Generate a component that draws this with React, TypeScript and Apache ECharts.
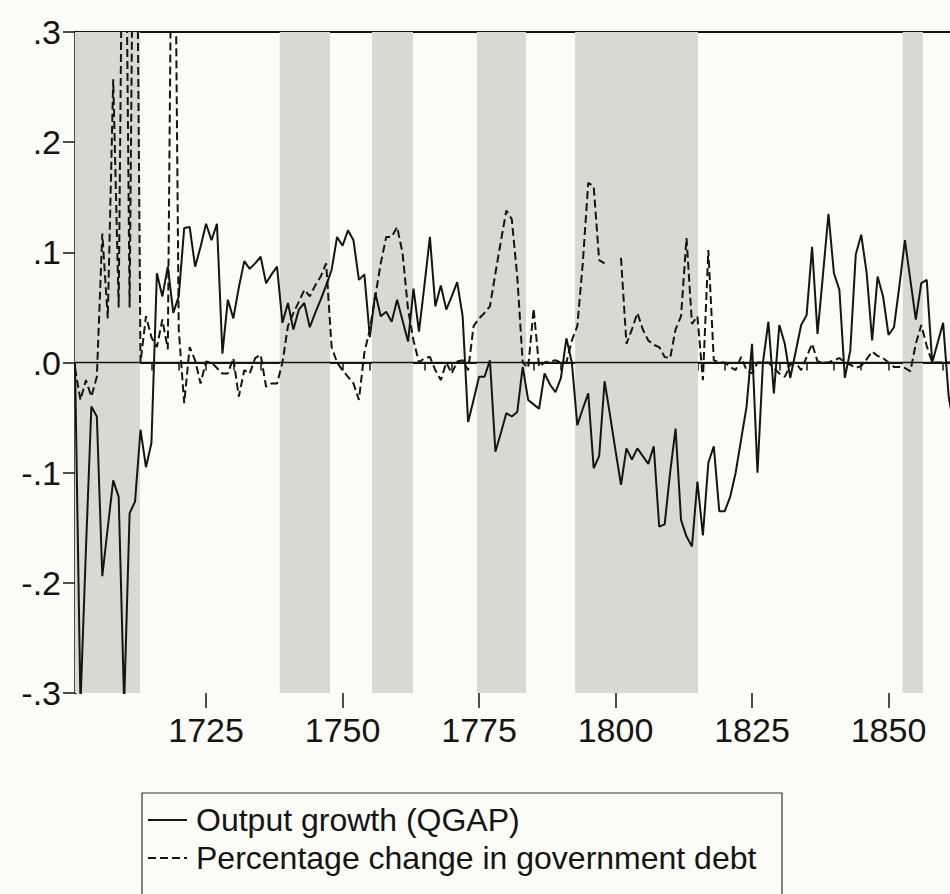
import React, { useEffect, useRef } from "react";
import * as echarts from "echarts";

// ---- Data (annual observations, first year 1701) ----
const FIRST_YEAR = 1701;

const outputGrowth: number[] = [
  0.0, -0.31, -0.17, -0.04, -0.049, -0.194, -0.15, -0.107, -0.122, -0.31,
  -0.137, -0.126, -0.061, -0.095, -0.073, 0.081, 0.06, 0.087, 0.045, 0.06,
  0.122, 0.123, 0.087, 0.105, 0.126, 0.111, 0.126, 0.008, 0.057, 0.04,
  0.068, 0.092, 0.085, 0.09, 0.096, 0.072, 0.08, 0.087, 0.036, 0.054,
  0.03, 0.048, 0.054, 0.032, 0.045, 0.057, 0.07, 0.084, 0.114, 0.106,
  0.12, 0.111, 0.075, 0.08, 0.023, 0.063, 0.042, 0.046, 0.037, 0.057,
  0.038, 0.019, 0.067, 0.028, 0.07, 0.114, 0.051, 0.07, 0.048, 0.06,
  0.073, 0.042, -0.054, -0.034, -0.013, -0.013, 0.002, -0.081, -0.064, -0.046,
  -0.049, -0.045, -0.004, -0.034, -0.038, -0.042, -0.01, -0.02, -0.027, -0.014,
  0.022, 0.0, -0.057, -0.042, -0.028, -0.096, -0.085, -0.017, -0.048, -0.08,
  -0.111, -0.078, -0.088, -0.078, -0.085, -0.092, -0.076, -0.149, -0.147, -0.1,
  -0.06, -0.143, -0.158, -0.167, -0.108, -0.157, -0.091, -0.076, -0.135, -0.135,
  -0.122, -0.1, -0.07, -0.04, 0.017, -0.1, 0.0, 0.037, -0.028, 0.034,
  0.017, -0.014, 0.01, 0.034, 0.043, 0.105, 0.026, 0.08, 0.135, 0.081,
  0.066, -0.014, 0.011, 0.098, 0.116, 0.081, 0.02, 0.078, 0.06, 0.025,
  0.032, 0.07, 0.111, 0.075, 0.039, 0.072, 0.075, 0.0, 0.018, 0.036,
  -0.03, -0.06,
];

const debtChange: (number | null)[] = [
  -0.005, -0.034, -0.016, -0.031, -0.013, 0.117, 0.04, 0.257, 0.05, 0.6,
  0.05, 0.63, 0.0, 0.042, 0.023, 0.014, 0.039, 0.012, 0.6, 0.03,
  -0.037, 0.014, 0.002, -0.019, 0.001, 0.0, -0.005, -0.01, -0.01, 0.004,
  -0.031, -0.007, -0.01, 0.004, 0.007, -0.022, -0.019, -0.019, 0.0, 0.033,
  0.045, 0.055, 0.066, 0.06, 0.07, 0.078, 0.09, 0.014, 0.0, -0.007,
  -0.013, -0.019, -0.034, 0.009, 0.03, 0.06, 0.09, 0.114, 0.114, 0.123,
  0.099, 0.048, 0.02, 0.0, 0.004, 0.005, -0.007, -0.016, 0.0, -0.01,
  0.001, 0.002, -0.007, 0.033, 0.04, 0.045, 0.051, 0.081, 0.11, 0.138,
  0.13, 0.078, 0.0, -0.005, 0.049, -0.004, 0.0, 0.001, 0.002, 0.0,
  0.0, 0.02, 0.033, 0.09, 0.163, 0.16, 0.093, 0.09, null, null,
  0.095, 0.017, 0.03, 0.045, 0.03, 0.02, 0.016, 0.014, 0.005, 0.004,
  0.03, 0.042, 0.113, 0.035, 0.042, -0.016, 0.102, 0.002, 0.0, 0.0,
  -0.004, -0.007, 0.005, -0.007, -0.01, 0.0, 0.0, 0.0, -0.005, -0.01,
  -0.013, -0.002, 0.0, -0.007, 0.005, 0.017, 0.001, 0.0, 0.0, 0.002,
  0.004, 0.0, -0.002, -0.005, -0.003, 0.003, 0.01, 0.006, 0.004, 0.0,
  -0.004, -0.004, -0.005, -0.008, 0.017, 0.034, 0.015, 0.0, 0.0, 0.0,
  0.0, 0.0,
];

// Shaded (war) periods, in years
const warBands: [number, number][] = [
  [1701, 1712.9],
  [1738.5, 1747.7],
  [1755.4, 1762.9],
  [1774.6, 1783.6],
  [1792.6, 1815.1],
  [1852.6, 1856.3],
];

const xLabelYears = [1725, 1750, 1775, 1800, 1825, 1850];
const xMinorTickYears = [
  1705, 1710, 1715, 1720, 1725, 1730, 1735, 1740, 1745, 1750, 1755, 1760,
  1765, 1770, 1775, 1780, 1785, 1790, 1795, 1800, 1805, 1810, 1815, 1820,
  1825, 1830, 1835, 1840, 1845, 1850, 1855, 1860,
];

const legendLabels = [
  "Output growth (QGAP)",
  "Percentage change in government debt",
];

const X_MIN = 1701;
const X_MAX = 1861.26;

const FONT = "'Liberation Sans', Arial, Helvetica, sans-serif";
const INK = "#141414";

export default function App() {
  const ref = useRef<HTMLDivElement>(null);

  useEffect(() => {
    if (!ref.current) return;
    const chart = echarts.init(ref.current, null, { renderer: "svg" });

    const solidData = outputGrowth.map((v, i) => [FIRST_YEAR + i, v]);
    const dashedData = debtChange.map((v, i) => [FIRST_YEAR + i, v]);

    const yFmt = (v: number) => {
      const r = Math.round(v * 10);
      if (r === 0) return ".0";
      return (r < 0 ? "-" : "") + "." + Math.abs(r);
    };

    const option: any = {
      animation: false,
      backgroundColor: "#fcfcf7",
      grid: { left: 75, right: 0, top: 32, bottom: 201, containLabel: false },
      xAxis: [
        {
          type: "value",
          min: X_MIN,
          max: X_MAX,
          position: "bottom",
          axisLine: { show: true, lineStyle: { color: INK, width: 2 } },
          axisTick: {
            show: true,
            customValues: xMinorTickYears,
            length: 8,
            lineStyle: { color: INK, width: 1.5 },
          },
          axisLabel: {
            show: true,
            customValues: xLabelYears,
            fontSize: 34,
            fontFamily: FONT,
            color: INK,
            margin: 20,
            formatter: (v: number) => String(Math.round(v)),
          },
          splitLine: { show: false },
        },
        {
          type: "value",
          min: X_MIN,
          max: X_MAX,
          position: "bottom",
          axisLine: { show: false },
          axisTick: {
            show: true,
            customValues: xLabelYears,
            length: 15,
            lineStyle: { color: INK, width: 1.5 },
          },
          axisLabel: { show: false },
          splitLine: { show: false },
        },
        {
          type: "value",
          min: X_MIN,
          max: X_MAX,
          position: "top",
          axisLine: { show: true, lineStyle: { color: INK, width: 2 } },
          axisTick: { show: false },
          axisLabel: { show: false },
          splitLine: { show: false },
        },
      ],
      yAxis: {
        type: "value",
        min: -0.3,
        max: 0.3,
        interval: 0.1,
        axisLine: { show: true, lineStyle: { color: INK, width: 2.5 } },
        axisTick: { show: true, length: 12, lineStyle: { color: INK, width: 1.5 } },
        axisLabel: {
          fontSize: 34,
          fontFamily: FONT,
          color: INK,
          margin: 14,
          formatter: yFmt,
        },
        splitLine: { show: false },
      },
      series: [
        {
          type: "custom",
          name: "bands",
          z: 1,
          silent: true,
          xAxisIndex: 0,
          data: warBands.map((b) => [b[0], b[1]]),
          encode: { x: [0, 1] },
          renderItem: (params: any, api: any) => {
            const p0 = api.coord([api.value(0), 0.3]);
            const p1 = api.coord([api.value(1), -0.3]);
            const cs = params.coordSys;
            const x0 = Math.max(p0[0], cs.x);
            const x1 = Math.min(p1[0], cs.x + cs.width);
            return {
              type: "rect",
              shape: { x: x0, y: p0[1], width: x1 - x0, height: p1[1] - p0[1] },
              style: { fill: "#d9d9d2" },
            };
          },
        },
        {
          type: "line",
          name: legendLabels[0],
          z: 3,
          xAxisIndex: 0,
          data: solidData,
          showSymbol: false,
          symbol: "none",
          clip: true,
          lineStyle: { color: INK, width: 2, type: "solid" },
          markLine: {
            silent: true,
            symbol: ["none", "none"],
            label: { show: false },
            lineStyle: { color: INK, width: 1.3, type: "solid" },
            data: [{ yAxis: 0 }],
          },
        },
        {
          type: "line",
          name: legendLabels[1],
          z: 4,
          xAxisIndex: 0,
          data: dashedData,
          showSymbol: false,
          symbol: "none",
          clip: true,
          connectNulls: false,
          lineStyle: { color: INK, width: 2, type: [8, 4] },
        },
      ],
      graphic: [
        {
          type: "rect",
          shape: { x: 142, y: 793, width: 640, height: 140 },
          style: { fill: "none", stroke: "#333", lineWidth: 1.2 },
          silent: true,
        },
        {
          type: "line",
          shape: { x1: 148, y1: 820, x2: 187, y2: 820 },
          style: { stroke: INK, lineWidth: 2 },
          silent: true,
        },
        {
          type: "text",
          x: 196,
          y: 820,
          style: {
            text: legendLabels[0],
            font: `32px ${FONT}`,
            fill: INK,
            verticalAlign: "middle",
            align: "left",
          },
          silent: true,
        },
        {
          type: "line",
          shape: { x1: 148, y1: 858, x2: 187, y2: 858 },
          style: { stroke: INK, lineWidth: 2, lineDash: [8, 4] },
          silent: true,
        },
        {
          type: "text",
          x: 196,
          y: 858,
          style: {
            text: legendLabels[1],
            font: `32px ${FONT}`,
            fill: INK,
            verticalAlign: "middle",
            align: "left",
          },
          silent: true,
        },
      ],
    };

    chart.setOption(option);
    return () => chart.dispose();
  }, []);

  return (
    <div
      ref={ref}
      style={{
        position: "absolute",
        left: 0,
        top: 0,
        width: 950,
        height: 894,
        background: "#fcfcf7",
      }}
    />
  );
}
